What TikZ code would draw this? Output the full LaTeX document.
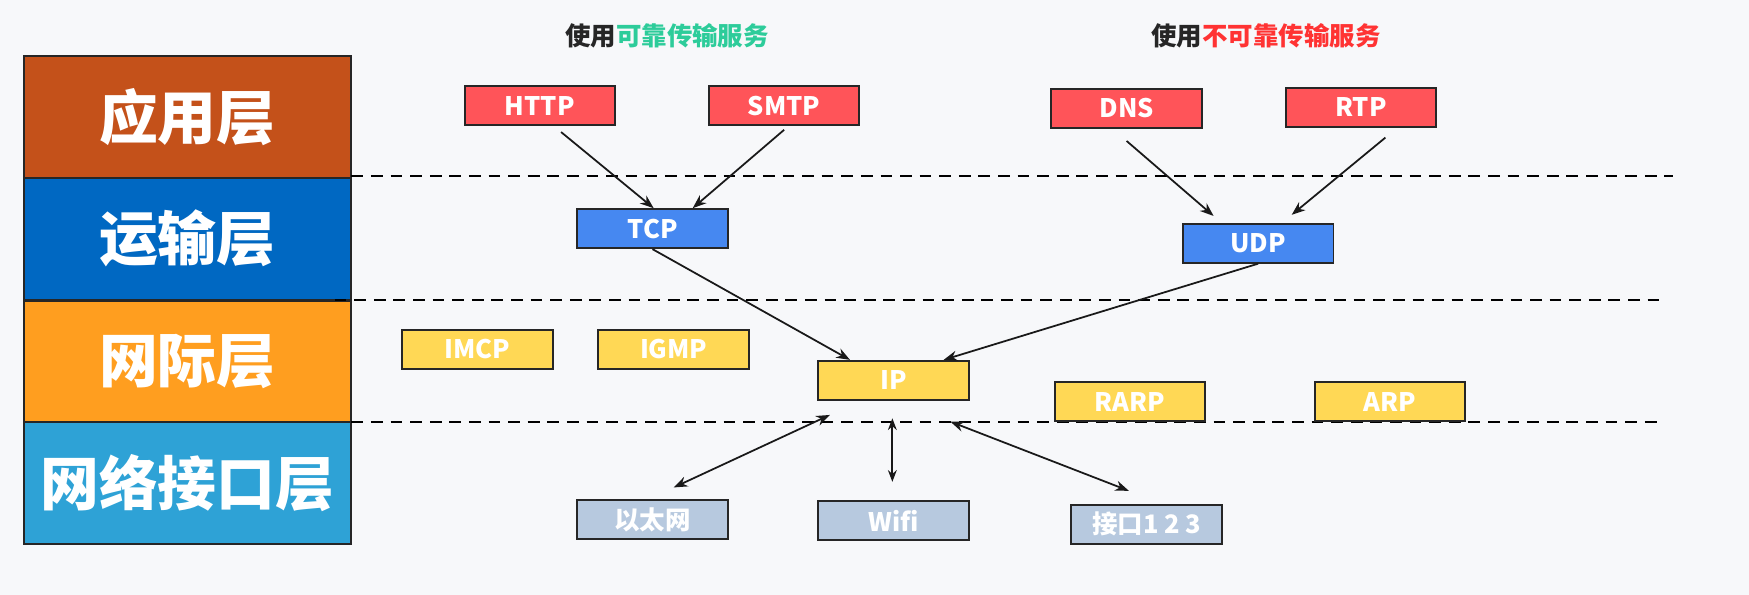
\documentclass[tikz,border=0pt]{standalone}
\usepackage{fontspec}
\setmainfont{Noto Sans CJK SC}
\usetikzlibrary{arrows.meta, positioning}
\definecolor{bgc}{HTML}{F7F8FA}
\definecolor{appc}{HTML}{C4511A}
\definecolor{trac}{HTML}{0068C2}
\definecolor{netc}{HTML}{FF9E1F}
\definecolor{linkc}{HTML}{2EA2D6}
\definecolor{redc}{HTML}{FF5459}
\definecolor{bluec}{HTML}{4688F1}
\definecolor{yelc}{HTML}{FFD855}
\definecolor{grayc}{HTML}{B7C9DF}
\definecolor{okc}{HTML}{2DCC9A}
\definecolor{badc}{HTML}{FF3333}
\begin{document}
\begin{tikzpicture}[x=0.02cm, y=-0.02cm,
  layer/.style={draw=black!85, line width=1pt, fill=#1, minimum width=5.86cm, minimum height=2.18cm, inner sep=0pt, text=white, font=\fontsize{30}{30}\selectfont\bfseries},
  proto/.style={draw=black!85, line width=1pt, fill=#1, minimum width=2.7cm, minimum height=0.7cm, inner sep=0pt, text=white, font=\fontsize{13}{13}\selectfont\bfseries},
  sep/.style={dashed, line width=1pt, dash pattern=on 6pt off 4pt},
  link/.style={-{Stealth[length=7pt]}, line width=0.9pt, black!90},
  title/.style={font=\fontsize{13}{13}\selectfont\bfseries, text=black!85},
]
\fill[bgc] (0,0) rectangle (1568,533);
\useasboundingbox (0,0) rectangle (1568,533);

% layers
\node[layer=appc] (app) at (168,105) {应用层};
\node[layer=trac] (tra) at (168,214) {运输层};
\node[layer=netc] (net) at (168,324) {网际层};
\node[layer=linkc] (lnk) at (168,433) {网络接口层};

% separators
\draw[sep] (315,158) -- (1500,158);
\draw[sep] (300,269) -- (1490,269);
\draw[sep] (315,378) -- (1490,378);

% titles
\node[title] (t1) at (598,32) {使用\textcolor{okc}{可靠传输服务}};
\node[title] (t2) at (1135,32) {使用\textcolor{badc}{不可靠传输服务}};

% protocols
\node[proto=redc] (http) at (484,95) {HTTP};
\node[proto=redc] (smtp) at (703,95) {SMTP};
\node[proto=redc] (dns) at (1010,97) {DNS};
\node[proto=redc] (rtp) at (1220,96) {RTP};
\node[proto=bluec] (tcp) at (585,205) {TCP};
\node[proto=bluec] (udp) at (1128,218) {UDP};
\node[proto=yelc] (imcp) at (428,313) {IMCP};
\node[proto=yelc] (igmp) at (604,313) {IGMP};
\node[proto=yelc] (ip) at (801,341) {IP};
\node[proto=yelc] (rarp) at (1013,360) {RARP};
\node[proto=yelc] (arp) at (1246,360) {ARP};
\node[proto=grayc] (eth) at (585,466) {以太网};
\node[proto=grayc] (wifi) at (801,467) {Wifi};
\node[proto=grayc] (port) at (1028,470) {接口1 2 3};

% end points
\coordinate (ipl) at (744,372);
\coordinate (ipm) at (800,375);
\coordinate (ipr) at (852,378);
\coordinate (ethu) at (604,437);
\coordinate (wifiu) at (800,432);
\coordinate (portu) at (1012,440);

% connectors
\draw[link] ([xshift=19*0.02cm, yshift=-5*0.02cm]http.south) -- ([xshift=0.02cm]tcp.north);
\draw[link] ([yshift=-3*0.02cm]smtp.south) -- ([xshift=36*0.02cm]tcp.north);
\draw[link] ([yshift=-11*0.02cm]dns.south) -- ([xshift=-40*0.02cm,yshift=0.12cm]udp.north);
\draw[link] ([xshift=22*0.02cm, yshift=-9*0.02cm]rtp.south) -- ([xshift=30*0.02cm,yshift=0.14cm]udp.north);
\draw[link] (tcp.south) -- ([xshift=-39*0.02cm]ip.north);
\draw[link] (udp.south) -- ([xshift=45*0.02cm]ip.north);
\draw[link, {Stealth[length=7pt]}-{Stealth[length=7pt]}] (ipl) -- (ethu);
\draw[link, {Stealth[length=6pt]}-{Stealth[length=6pt]}] (ipm) -- (wifiu);
\draw[link, {Stealth[length=7pt]}-{Stealth[length=7pt]}] (ipr) -- (portu);
\end{tikzpicture}
\end{document}
